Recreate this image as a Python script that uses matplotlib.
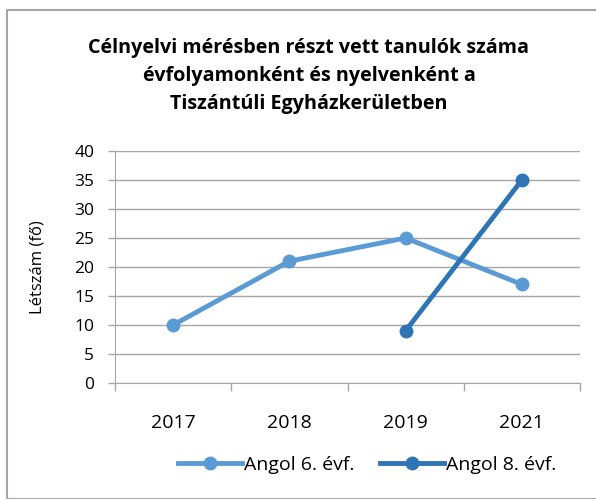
import matplotlib.pyplot as plt
from matplotlib.patches import Rectangle
import numpy as np

# data
years = ['2017', '2018', '2019', '2021']
angol_6 = [10, 21, 25, 17]
angol_8 = [np.nan, np.nan, 9, 35]

plt.rcParams['font.family'] = ['Open Sans', 'DejaVu Sans']

fig = plt.figure(figsize=(5.96, 4.99), dpi=100)
ax = fig.add_axes([115 / 596, 1 - 383 / 499, 465 / 596, 232 / 499])

x = np.arange(len(years))
ax.plot(x, angol_6, color='#5B9BD5', lw=3.5, marker='o', ms=9, label='Angol 6. évf.')
ax.plot(x, angol_8, color='#2E75B6', lw=3.5, marker='o', ms=9, label='Angol 8. évf.')

ax.set_xlim(-0.5, 3.5)
ax.set_ylim(0, 40)
ax.set_yticks(range(0, 41, 5))
ax.set_xticks(x)
ax.set_xticklabels(years)
ax.set_xticks(np.arange(-0.5, 4, 1), minor=True)
ax.tick_params(axis='x', which='major', length=0, pad=22, labelsize=14)
ax.tick_params(axis='x', which='minor', length=6, color='#A6A6A6', width=1)
ax.tick_params(axis='y', length=5, color='#A6A6A6', width=1, labelsize=12.5, pad=10)
ax.grid(axis='y', color='#A6A6A6', lw=1)
ax.set_axisbelow(True)
for s in ['top', 'right']:
    ax.spines[s].set_visible(False)
ax.spines['left'].set_color('#A6A6A6')
ax.spines['bottom'].set_color('#A6A6A6')

ax.set_ylabel('Létszám (fő)', fontsize=12)
ax.yaxis.set_label_coords(-(115 - 45) / 465, 0.5)

fig.text(309 / 596, 1 - 76 / 499,
         'Célnyelvi mérésben részt vett tanulók száma\névfolyamonként és nyelvenként a\nTiszántúli Egyházkerületben',
         ha='center', va='center', fontsize=14.2, fontweight='bold', linespacing=1.5)

fig.legend(loc='center', bbox_to_anchor=(367 / 596, 1 - 465 / 499), ncol=2, frameon=False,
           fontsize=14, handlelength=3.3, handletextpad=0.1, columnspacing=1.3)

fig.patches.append(Rectangle((7 / 596, 0), 1, 1 - 10 / 499, transform=fig.transFigure,
                             fill=False, edgecolor='#A6A6A6', lw=1.5))

fig.savefig('out.png', dpi=100)
